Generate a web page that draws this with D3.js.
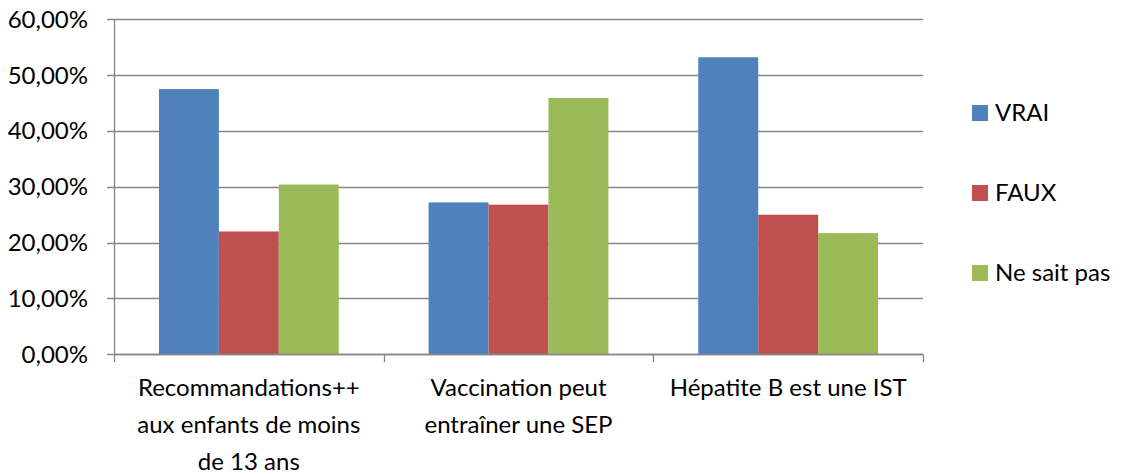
<!DOCTYPE html>
<html>
<head>
<meta charset="utf-8">
<script src="https://cdnjs.cloudflare.com/ajax/libs/d3/7.8.5/d3.min.js"></script>
<style>
  body { margin: 0; background: #fff; }
  text { font-family: Lato, "Open Sans", sans-serif; fill: #000; }
</style>
</head>
<body>
<div id="chart"></div>
<script>
var categories = ["Recommandations++\naux enfants de moins\nde 13 ans", "Vaccination peut\nentraîner une SEP", "Hépatite B est une IST"];
var series = ["VRAI", "FAUX", "Ne sait pas"];
var vrai = [47.5, 27.2, 53.2];
var faux = [22.0, 26.8, 25.0];
var nsp = [30.4, 45.9, 21.7];
var yTicks = [0, 10, 20, 30, 40, 50, 60];
var colors = ["#4F81BD", "#C0504D", "#9BBB59"];

var width = 1128, height = 474;
var plotLeft = 114, plotRight = 923, plotTop = 19.3, plotBottom = 354.3;
var fontSize = "24px";

var svg = d3.select("#chart").append("svg")
    .attr("width", width)
    .attr("height", height);

var values = [vrai, faux, nsp];

var x0 = d3.scaleBand().domain(d3.range(categories.length)).range([plotLeft, plotRight]).padding(0);
var x1 = d3.scaleBand().domain(d3.range(series.length)).range([0, x0.bandwidth()]).paddingInner(0).paddingOuter(0.75);
var y = d3.scaleLinear().domain([0, 60]).range([plotBottom, plotTop]);

// gridlines
svg.append("g").selectAll("line")
    .data(yTicks)
    .enter().append("line")
    .attr("x1", plotLeft - 7)
    .attr("x2", plotRight)
    .attr("y1", function(d) { return Math.round(y(d)) + 0.5 })
    .attr("y2", function(d) { return Math.round(y(d)) + 0.5 })
    .attr("stroke", "#868686")
    .attr("stroke-width", 1.3)

// y axis line
svg.append("line")
    .attr("x1", plotLeft + 0.5).attr("x2", plotLeft + 0.5)
    .attr("y1", plotTop).attr("y2", plotBottom)
    .attr("stroke", "#868686").attr("stroke-width", 1.3)

// y labels
svg.append("g").selectAll("text")
    .data(yTicks)
    .enter().append("text")
    .attr("x", 88)
    .attr("y", function(d) { return y(d) })
    .attr("dy", "0.35em")
    .attr("text-anchor", "end")
    .style("font-size", fontSize)
    .text(function(d) { return d3.format(".2f")(d).replace(".", ",") + "%" })

// bars
var groups = svg.append("g").selectAll("g")
    .data(categories)
    .enter().append("g")
    .attr("transform", function(d, i) { return "translate(" + x0(i) + ",0)" })

groups.selectAll("rect")
    .data(function(d, i) { return values.map(function(v, s) { return { s: s, v: v[i] } }) })
    .enter().append("rect")
    .attr("x", function(d) { return x1(d.s) })
    .attr("width", x1.bandwidth())
    .attr("y", function(d) { return y(d.v) })
    .attr("height", function(d) { return plotBottom - y(d.v) })
    .attr("fill", function(d) { return colors[d.s] })

// x axis
svg.append("line")
    .attr("x1", plotLeft).attr("x2", plotRight)
    .attr("y1", Math.round(plotBottom) + 0.5).attr("y2", Math.round(plotBottom) + 0.5)
    .attr("stroke", "#868686").attr("stroke-width", 1.3)

var bounds = d3.range(categories.length + 1).map(function(i) { return plotLeft + i * x0.bandwidth() })
svg.append("g").selectAll("line")
    .data(bounds)
    .enter().append("line")
    .attr("x1", function(d) { return Math.round(d) + 0.5 })
    .attr("x2", function(d) { return Math.round(d) + 0.5 })
    .attr("y1", plotBottom)
    .attr("y2", plotBottom + 8)
    .attr("stroke", "#868686").attr("stroke-width", 1.3)

// category labels
var labels = svg.append("g").selectAll("text")
    .data(categories)
    .enter().append("text")
    .attr("text-anchor", "middle")
    .style("font-size", fontSize)
    .attr("transform", function(d, i) { return "translate(" + (x0(i) + x0.bandwidth() / 2) + ",0)" })

labels.selectAll("tspan")
    .data(function(d) { return d.split("\n") })
    .enter().append("tspan")
    .attr("x", 0)
    .attr("y", function(d, i) { return 388 + i * 37 })
    .attr("dy", "0.35em")
    .text(function(d) { return d })

// legend
var legend = svg.append("g").selectAll("g")
    .data(series)
    .enter().append("g")
    .attr("transform", function(d, i) { return "translate(972," + (113 + i * 80) + ")" })

legend.append("rect")
    .attr("x", 0).attr("y", -8)
    .attr("width", 16).attr("height", 16)
    .attr("fill", function(d, i) { return colors[i] })

legend.append("text")
    .attr("x", 23)
    .attr("y", 0)
    .attr("dy", "0.35em")
    .style("font-size", fontSize)
    .text(function(d) { return d })
</script>
</body>
</html>
